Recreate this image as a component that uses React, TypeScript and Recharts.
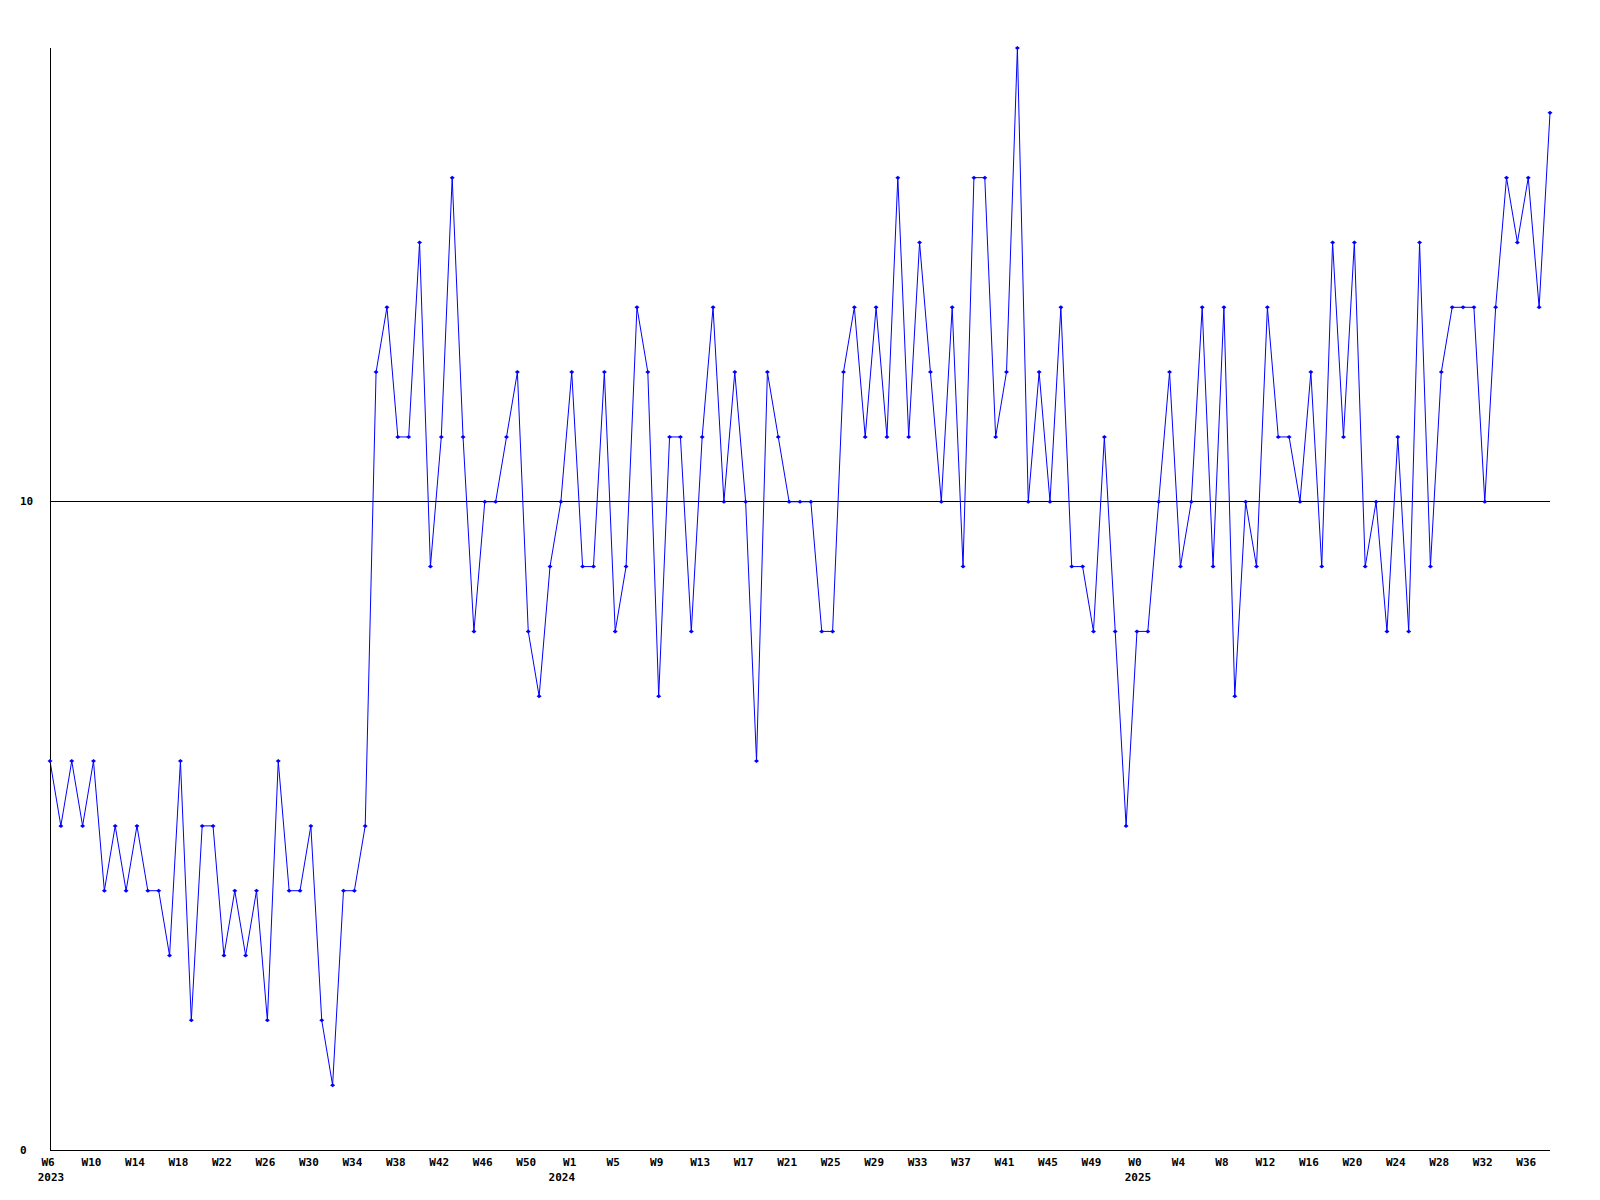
import { LineChart, Line, XAxis, YAxis, ReferenceLine } from 'recharts'

// weekly counts, 2023 W6 .. 2025 W38
const values = [
  6, 5, 6, 5, 6, 4, 5, 4, 5, 4, 4, 3, 6, 2, 5, 5, 3, 4, 3, 4,
  2, 6, 4, 4, 5, 2, 1, 4, 4, 5, 12, 13, 11, 11, 14, 9, 11, 15, 11, 8,
  10, 10, 11, 12, 8, 7, 9, 10, 12, 9, 9, 12, 8, 9, 13, 12, 7, 11, 11, 8,
  11, 13, 10, 12, 10, 6, 12, 11, 10, 10, 10, 8, 8, 12, 13, 11, 13, 11, 15, 11,
  14, 12, 10, 13, 9, 15, 15, 11, 12, 17, 10, 12, 10, 13, 9, 9, 8, 11, 8, 5,
  8, 8, 10, 12, 9, 10, 13, 9, 13, 7, 10, 9, 13, 11, 11, 10, 12, 9, 14, 11,
  14, 9, 10, 8, 11, 8, 14, 9, 12, 13, 13, 13, 10, 13, 15, 14, 15, 13, 16,
]

const years = [2023, 2024, 2025]
const firstWeek = [6, 0, 0]
const lastWeek = [52, 52, 38]

const yTicks = [0, 10]

type Row = { i: number; year: number; week: number; newYear: boolean; value: number }

const rows: Row[] = []
years.forEach((year, k) => {
  for (let w = firstWeek[k]; w <= lastWeek[k]; w++) {
    const i = rows.length
    rows.push({ i, year, week: w, newYear: w === firstWeek[k], value: values[i] })
  }
})

const font = { fontFamily: '"DejaVu Sans Mono", monospace', fontSize: 11, fontWeight: 700 }

function WeekTick(props: any) {
  const { x, y, payload } = props
  const row = rows[payload.value]
  if (!row) return <g />
  return (
    <g>
      {row.i % 4 === 0 && (
        <text x={x - 2} y={y + 10} textAnchor="middle" dominantBaseline="central" fill="#000" style={font}>
          {'W' + row.week}
        </text>
      )}
      {row.newYear && (
        <text x={x + 1} y={y + 25} textAnchor="middle" dominantBaseline="central" fill="#000" style={font}>
          {row.year}
        </text>
      )}
    </g>
  )
}

function ValueTick(props: any) {
  const { y, payload } = props
  return (
    <text x={20} y={y} textAnchor="start" dominantBaseline="central" fill="#000" style={font}>
      {payload.value}
    </text>
  )
}

function Diamond(props: any) {
  const { cx, cy, index } = props
  if (cx == null || cy == null) return <g key={index} />
  return (
    <path key={index} d={`M${cx - 2.5},${cy} L${cx},${cy - 2} L${cx + 2.5},${cy} L${cx},${cy + 2} Z`} fill="#0000ff" />
  )
}

export default function App() {
  return (
    <div style={{ position: 'absolute', left: 0, top: 0, width: 1600, height: 1200, background: '#fff' }}>
      <LineChart width={1600} height={1200} data={rows} margin={{ top: 48, right: 50, bottom: 0, left: 0 }}>
        <XAxis dataKey="i" type="category" interval={0} height={50} tickLine={false} tickSize={0}
          axisLine={{ stroke: '#000', shapeRendering: 'crispEdges' }} tick={<WeekTick />} />
        <YAxis domain={[0, 17]} ticks={yTicks} width={50} tickLine={false} tickSize={0}
          axisLine={{ stroke: '#000', shapeRendering: 'crispEdges' }} tick={<ValueTick />} />
        <ReferenceLine y={10} stroke="#000" strokeWidth={1} shapeRendering="crispEdges" />
        <Line type="linear" dataKey="value" stroke="#0000ff" strokeWidth={1} dot={Diamond}
          activeDot={false} isAnimationActive={false} />
      </LineChart>
    </div>
  )
}
